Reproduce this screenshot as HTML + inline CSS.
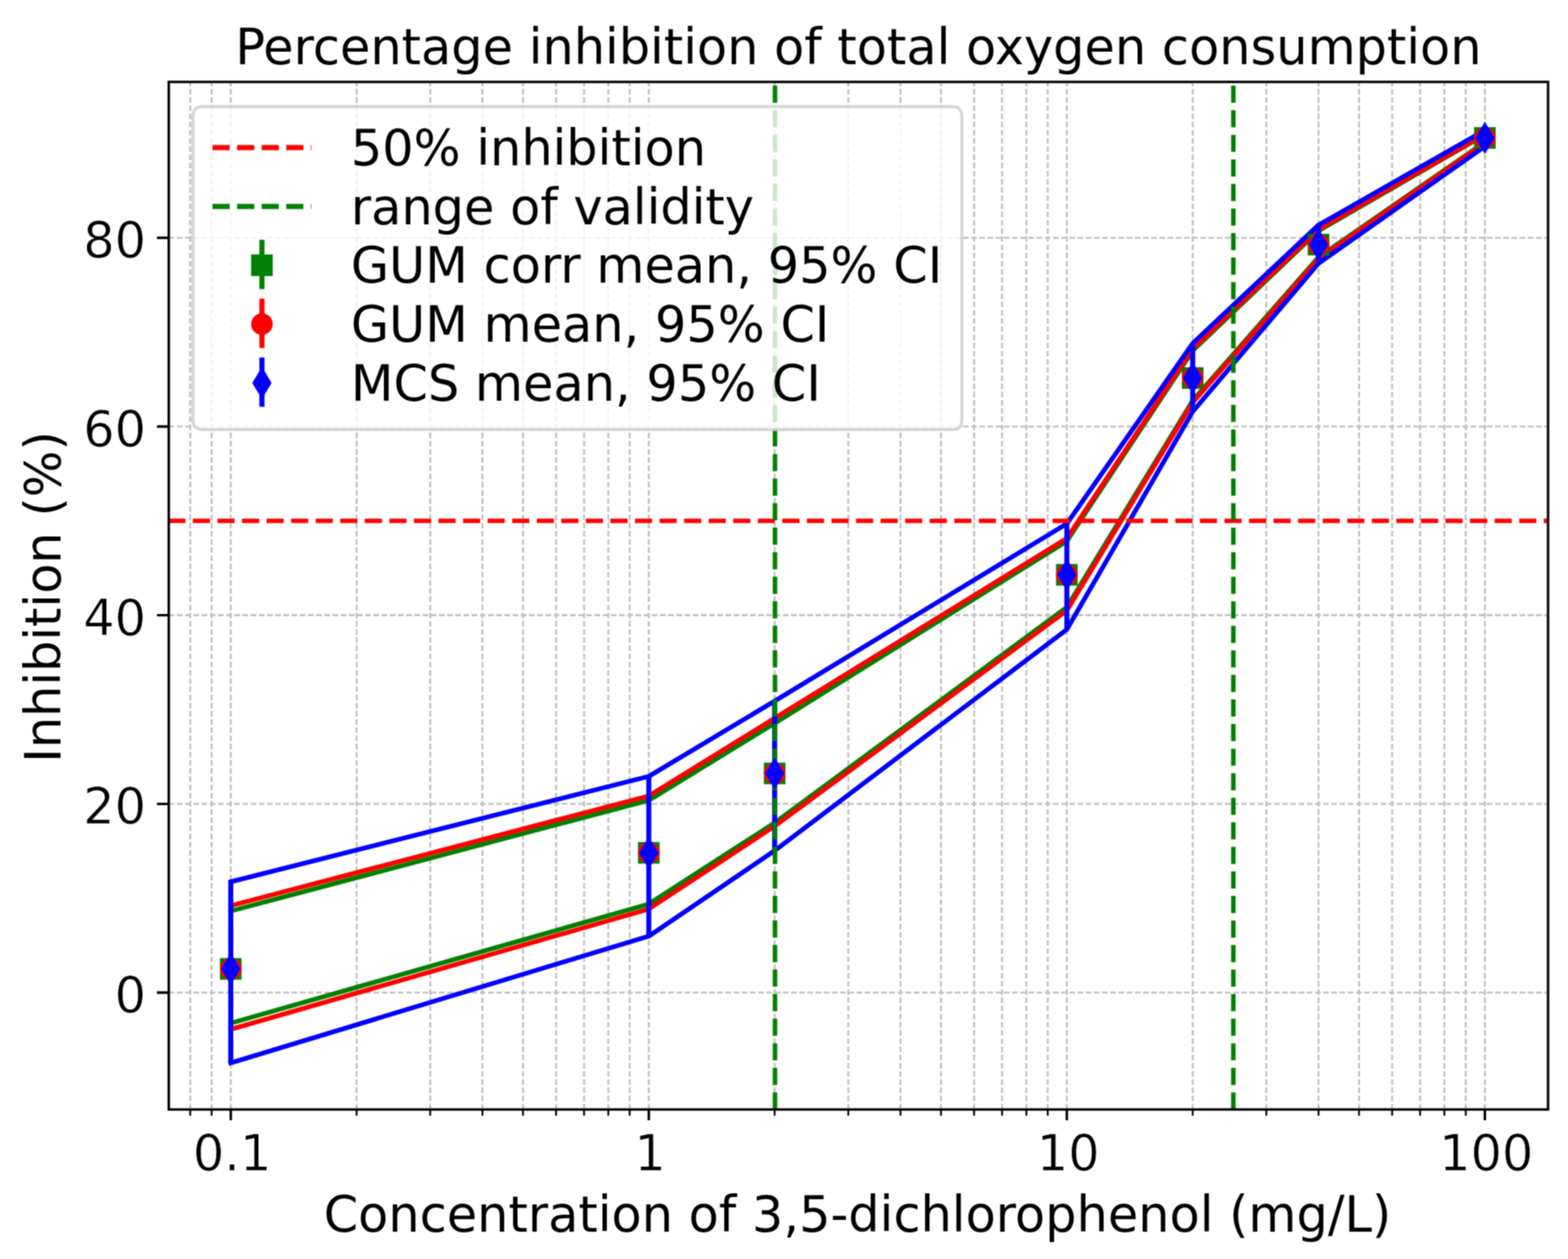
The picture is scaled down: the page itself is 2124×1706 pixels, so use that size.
<!DOCTYPE html>
<html lang="en"><head><meta charset="utf-8"><title>Percentage inhibition of total oxygen consumption</title><style>html,body{margin:0;padding:0;background:#fff}body{width:2124px;height:1706px;overflow:hidden}</style></head><body>
<svg xmlns="http://www.w3.org/2000/svg" width="2124" height="1706" viewBox="0 0 2124 1706" style="display:block">
<rect width="2124" height="1706" fill="#fff"/>
<defs><clipPath id="ax"><rect x="228.6" y="111.0" width="1868.4" height="1392.4"/></clipPath><filter id="soft" x="0" y="0" width="2124" height="1706" filterUnits="userSpaceOnUse" color-interpolation-filters="sRGB"><feConvolveMatrix order="3" kernelMatrix="1 2 1 2 4 2 1 2 1" divisor="16" edgeMode="duplicate" preserveAlpha="false"/></filter></defs>
<g filter="url(#soft)">
<rect x="-10" y="-10" width="2144" height="1726" fill="#fff"/>
<g clip-path="url(#ax)" fill="none" stroke="#bfbfbf" stroke-width="2.60" stroke-dasharray="7.74 3.35">
<path d="M257.72 1503.4V111.0"/>
<path d="M286.69 1503.4V111.0"/>
<path d="M312.60 1503.4V111.0"/>
<path d="M483.06 1503.4V111.0"/>
<path d="M582.78 1503.4V111.0"/>
<path d="M653.53 1503.4V111.0"/>
<path d="M708.41 1503.4V111.0"/>
<path d="M753.24 1503.4V111.0"/>
<path d="M791.15 1503.4V111.0"/>
<path d="M823.99 1503.4V111.0"/>
<path d="M852.96 1503.4V111.0"/>
<path d="M878.87 1503.4V111.0"/>
<path d="M1049.33 1503.4V111.0"/>
<path d="M1149.05 1503.4V111.0"/>
<path d="M1219.80 1503.4V111.0"/>
<path d="M1274.68 1503.4V111.0"/>
<path d="M1319.51 1503.4V111.0"/>
<path d="M1357.42 1503.4V111.0"/>
<path d="M1390.26 1503.4V111.0"/>
<path d="M1419.23 1503.4V111.0"/>
<path d="M1445.14 1503.4V111.0"/>
<path d="M1615.60 1503.4V111.0"/>
<path d="M1715.32 1503.4V111.0"/>
<path d="M1786.07 1503.4V111.0"/>
<path d="M1840.95 1503.4V111.0"/>
<path d="M1885.78 1503.4V111.0"/>
<path d="M1923.69 1503.4V111.0"/>
<path d="M1956.53 1503.4V111.0"/>
<path d="M1985.50 1503.4V111.0"/>
<path d="M2011.41 1503.4V111.0"/>
<path d="M228.6 1345.00H2097.0"/>
<path d="M228.6 1089.32H2097.0"/>
<path d="M228.6 833.64H2097.0"/>
<path d="M228.6 577.96H2097.0"/>
<path d="M228.6 322.28H2097.0"/>
</g>
<g clip-path="url(#ax)" fill="none" stroke-width="6.30" stroke-linejoin="round" stroke-linecap="butt">
<path d="M312.60 1386.42V1234.42M878.87 1224.96V1084.46M1049.33 1115.02V980.02M1445.14 822.77V733.29M1615.60 542.80V475.18M1786.07 348.49V312.69M2011.41 192.52V182.68" stroke="#008000" stroke-width="4"/>
<path d="M312.60 1386.42L878.87 1224.96L1049.33 1115.02L1445.14 822.77L1615.60 542.80L1786.07 348.49L2011.41 192.52" stroke="#008000" stroke-linecap="square"/>
<path d="M312.60 1234.42L878.87 1084.46L1049.33 980.02L1445.14 733.29L1615.60 475.18L1786.07 312.69L2011.41 182.68" stroke="#008000" stroke-linecap="square"/>
<path d="M312.60 1394.73V1227.26M878.87 1231.73V1078.45M1049.33 1119.49V973.24M1445.14 827.25V729.45M1615.60 545.36V472.62M1786.07 350.40V310.77M2011.41 193.55V182.04" stroke="#ff0000" stroke-width="4"/>
<path d="M312.60 1394.73L878.87 1231.73L1049.33 1119.49L1445.14 827.25L1615.60 545.36L1786.07 350.40L2011.41 193.55" stroke="#ff0000" stroke-linecap="square"/>
<path d="M312.60 1227.26L878.87 1078.45L1049.33 973.24L1445.14 729.45L1615.60 472.62L1786.07 310.77L2011.41 182.04" stroke="#ff0000" stroke-linecap="square"/>
<path d="M312.60 1440.24V1194.92M878.87 1268.55V1051.99M1049.33 1152.73V949.97M1445.14 852.94V709.64M1615.60 557.76V465.21M1786.07 356.80V304.89M2011.41 198.28V176.67" stroke="#0000ff" stroke-width="6.8"/>
<path d="M312.60 1440.24L878.87 1268.55L1049.33 1152.73L1445.14 852.94L1615.60 557.76L1786.07 356.80L2011.41 198.28" stroke="#0000ff" stroke-linecap="square"/>
<path d="M312.60 1194.92L878.87 1051.99L1049.33 949.97L1445.14 709.64L1615.60 465.21L1786.07 304.89L2011.41 176.67" stroke="#0000ff" stroke-linecap="square"/>
<path d="M228.0 705.80H2098.0" stroke="#ff0000" stroke-width="6.1" stroke-dasharray="23.23 10.04"/>
<path d="M1049.78 1503.4V110.0" stroke="#008000" stroke-width="6.1" stroke-dasharray="23.23 10.04"/>
<path d="M1670.68 1503.4V110.0" stroke="#008000" stroke-width="6.1" stroke-dasharray="23.23 10.04"/>
</g>
<g clip-path="url(#ax)">
<rect x="297.95" y="1298.26" width="29.29" height="29.29" fill="#008000"/>
<rect x="864.22" y="1141.02" width="29.29" height="29.29" fill="#008000"/>
<rect x="1034.69" y="1033.38" width="29.29" height="29.29" fill="#008000"/>
<rect x="1430.49" y="764.28" width="29.29" height="29.29" fill="#008000"/>
<rect x="1600.96" y="497.60" width="29.29" height="29.29" fill="#008000"/>
<rect x="1771.42" y="316.84" width="29.29" height="29.29" fill="#008000"/>
<rect x="1996.76" y="172.25" width="29.29" height="29.29" fill="#008000"/>
<circle cx="312.60" cy="1312.91" r="14.65" fill="#ff0000"/>
<circle cx="878.87" cy="1155.67" r="14.65" fill="#ff0000"/>
<circle cx="1049.33" cy="1048.03" r="14.65" fill="#ff0000"/>
<circle cx="1445.14" cy="778.92" r="14.65" fill="#ff0000"/>
<circle cx="1615.60" cy="512.25" r="14.65" fill="#ff0000"/>
<circle cx="1786.07" cy="331.48" r="14.65" fill="#ff0000"/>
<circle cx="2011.41" cy="186.90" r="14.65" fill="#ff0000"/>
<path d="M312.60 1291.09L325.69 1312.91L312.60 1334.73L299.51 1312.91Z" fill="#0000ff"/>
<path d="M878.87 1133.85L891.96 1155.67L878.87 1177.49L865.78 1155.67Z" fill="#0000ff"/>
<path d="M1049.33 1026.21L1062.43 1048.03L1049.33 1069.85L1036.24 1048.03Z" fill="#0000ff"/>
<path d="M1445.14 757.10L1458.23 778.92L1445.14 800.75L1432.05 778.92Z" fill="#0000ff"/>
<path d="M1615.60 490.43L1628.70 512.25L1615.60 534.07L1602.51 512.25Z" fill="#0000ff"/>
<path d="M1786.07 309.66L1799.16 331.48L1786.07 353.31L1772.97 331.48Z" fill="#0000ff"/>
<path d="M2011.41 165.07L2024.50 186.90L2011.41 208.72L1998.32 186.90Z" fill="#0000ff"/>
</g>
<g stroke="#000" fill="none">
<path d="M312.60 1503.4v14.65M878.87 1503.4v14.65M1445.14 1503.4v14.65M2011.41 1503.4v14.65" stroke-width="3.35"/>
<path d="M257.72 1503.4v8.37M286.69 1503.4v8.37M483.06 1503.4v8.37M582.78 1503.4v8.37M653.53 1503.4v8.37M708.41 1503.4v8.37M753.24 1503.4v8.37M791.15 1503.4v8.37M823.99 1503.4v8.37M852.96 1503.4v8.37M1049.33 1503.4v8.37M1149.05 1503.4v8.37M1219.80 1503.4v8.37M1274.68 1503.4v8.37M1319.51 1503.4v8.37M1357.42 1503.4v8.37M1390.26 1503.4v8.37M1419.23 1503.4v8.37M1615.60 1503.4v8.37M1715.32 1503.4v8.37M1786.07 1503.4v8.37M1840.95 1503.4v8.37M1885.78 1503.4v8.37M1923.69 1503.4v8.37M1956.53 1503.4v8.37M1985.50 1503.4v8.37" stroke-width="2.51"/>
<path d="M228.6 1345.00h-16M228.6 1089.32h-16M228.6 833.64h-16M228.6 577.96h-16M228.6 322.28h-16" stroke-width="3.35"/>
<rect x="228.6" y="111.0" width="1868.4" height="1392.4" stroke-width="3.35" stroke-linejoin="miter"/>
</g>
<g font-family="'DejaVu Sans', 'Liberation Sans', sans-serif" font-size="66.9px" fill="#000">
<text x="1162.80" y="86.8" text-anchor="middle">Percentage inhibition of total oxygen consumption</text>
<text x="1161.50" y="1669.4" text-anchor="middle">Concentration of 3,5-dichlorophenol (mg/L)</text>
<text transform="translate(81.6 808.90) rotate(-90)" text-anchor="middle">Inhibition (%)</text>
<g stroke="#fff" stroke-width="0.7" stroke-linejoin="round">
<text x="314.50" y="1586.0" text-anchor="middle">0.1</text>
<text x="880.77" y="1586.0" text-anchor="middle">1</text>
<text x="1447.04" y="1586.0" text-anchor="middle">10</text>
<text x="2013.31" y="1586.0" text-anchor="middle">100</text>
<text x="197.81" y="1372.00" text-anchor="end">0</text>
<text x="197.81" y="1116.32" text-anchor="end">20</text>
<text x="197.81" y="860.64" text-anchor="end">40</text>
<text x="197.81" y="604.96" text-anchor="end">60</text>
<text x="197.81" y="349.28" text-anchor="end">80</text>
</g>
</g>
<path d="M274.78 144.3H1289.62Q1303.0 144.3 1303.0 157.68V568.82Q1303.0 582.2 1289.62 582.2H274.78Q261.4 582.2 261.4 568.82V157.68Q261.4 144.3 274.78 144.3Z" fill="#fff" fill-opacity="0.8" stroke="#ccc" stroke-opacity="0.8" stroke-width="4.18"/>
<g fill="none" stroke-width="7.0">
<path d="M287.9 200.0H421.70" stroke="#ff0000" stroke-dasharray="23.23 10.04"/>
<path d="M287.9 279.7H421.70" stroke="#008000" stroke-dasharray="23.23 10.04"/>
<path d="M354.80 324.90V391.70" stroke="#008000"/>
<path d="M354.80 404.70V471.50" stroke="#ff0000"/>
<path d="M354.80 484.40V551.20" stroke="#0000ff"/>
</g>
<rect x="340.15" y="344.75" width="29.29" height="29.29" fill="#008000"/>
<circle cx="354.80" cy="439.20" r="14.65" fill="#ff0000"/>
<path d="M354.80 497.08L367.89 518.90L354.80 540.72L341.71 518.90Z" fill="#0000ff"/>
<g font-family="'DejaVu Sans', 'Liberation Sans', sans-serif" font-size="66.9px" fill="#000">
<text x="475.22" y="224.00">50% inhibition</text>
<text x="475.22" y="303.70">range of validity</text>
<text x="475.22" y="383.40">GUM corr mean, 95% CI</text>
<text x="475.22" y="463.20">GUM mean, 95% CI</text>
<text x="475.22" y="542.90">MCS mean, 95% CI</text>
</g>
</g>
</svg>
</body></html>
